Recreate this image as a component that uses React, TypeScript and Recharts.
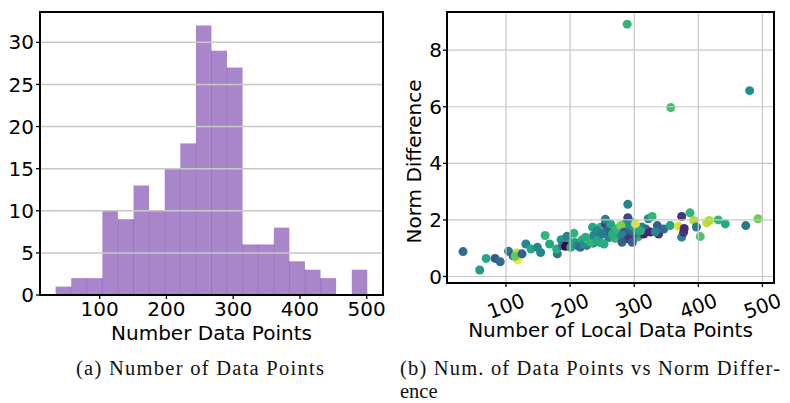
import React from 'react';
import {
  ComposedChart, Bar, XAxis, YAxis, CartesianGrid, ReferenceArea,
  ScatterChart, Scatter, ZAxis, Cell,
} from 'recharts';

// ---------- Histogram data ----------
const binEdges = [34.0, 57.35, 80.7, 104.05, 127.4, 150.75, 174.1, 197.45, 220.8, 244.15, 267.5,
  290.85, 314.2, 337.55, 360.9, 384.25, 407.6, 430.95, 454.3, 477.65, 501.0];
const binCounts = [1, 2, 2, 10, 9, 13, 10, 15, 18, 32, 29, 27, 6, 6, 8, 4, 3, 2, 0, 3];
const histXTicks = [100, 200, 300, 400, 500];
const histYTicks = [0, 5, 10, 15, 20, 25, 30];

// ---------- Scatter data ----------
const localPoints = [
  208, 219, 226, 238, 244, 247, 256, 260, 268, 270, 276, 279, 288, 293, 298, 300, 306, 312, 318, 236, 198, 186, 264, 285, 295,
  33, 59, 69, 83, 91, 104, 111, 117, 118, 114, 125, 131, 139, 149, 154, 161, 168, 180, 179, 188,
  193, 195, 206, 201, 211, 216, 222, 227, 232, 237, 242, 247, 255, 258, 263, 266, 273, 279, 284,
  290, 290, 294, 299, 304, 315, 322, 328, 336, 338, 346, 356, 369, 374, 374, 377, 387, 393, 397,
  403, 413, 417, 431, 442, 474, 493, 289, 357, 480, 325, 378, 255, 224, 235, 242, 250, 253, 281,
  291, 297, 302, 310, 333, 281,
];
const normDiff = [
  1.20, 1.30, 1.10, 1.45, 1.32, 1.20, 1.65, 1.38, 1.62, 1.35, 1.50, 1.78, 1.70, 1.60, 1.45, 1.72, 1.40, 1.75, 1.68, 1.18, 1.25, 1.30, 1.78, 1.85, 1.92,
  0.88, 0.23, 0.64, 0.64, 0.52, 0.89, 0.73, 0.83, 0.59, 0.71, 0.80, 1.15, 0.97, 1.03, 0.85, 1.45, 1.15, 0.80, 0.97, 1.09,
  1.07, 1.42, 1.53, 1.03, 1.09, 1.03, 1.15, 1.33, 1.21, 1.45, 1.27, 1.74, 1.86, 1.62, 1.86, 1.50, 1.68, 1.80, 1.56,
  2.55, 2.08, 1.86, 1.50, 1.62, 1.50, 2.04, 2.12, 1.80, 1.50, 1.68, 1.80, 1.78, 2.12, 1.39, 1.56, 2.25, 1.98, 1.75,
  1.41, 1.90, 1.98, 2.00, 1.86, 1.80, 2.04, 8.92, 5.97, 6.57, 1.57, 1.70, 2.02, 1.39, 1.74, 1.62, 1.51, 1.15, 1.45,
  1.33, 1.21, 1.86, 1.62, 1.58, 1.21,
];
const colorValue = [
  0.55, 0.62, 0.40, 0.60, 0.35, 0.60, 0.62, 0.45, 0.30, 0.65, 0.60, 0.62, 0.45, 0.40, 0.30, 0.60, 0.62, 0.45, 0.35, 0.45, 0.62, 0.55, 0.70, 0.55, 0.60,
  0.35, 0.55, 0.60, 0.28, 0.35, 0.40, 0.25, 0.90, 1.00, 0.75, 0.30, 0.45, 0.60, 0.45, 0.45, 0.65, 0.60, 0.40, 0.62, 0.40,
  0.00, 0.45, 0.65, 0.62, 0.45, 0.35, 0.50, 0.85, 0.65, 0.45, 0.60, 0.65, 0.20, 0.30, 0.60, 0.62, 0.65, 0.80, 0.30,
  0.45, 0.20, 0.50, 0.35, 0.55, 0.10, 0.45, 0.65, 0.30, 0.15, 0.35, 0.58, 0.95, 0.15, 0.45, 0.15, 0.65, 0.88, 0.40,
  0.72, 0.90, 0.88, 0.65, 0.60, 0.40, 0.78, 0.65, 0.70, 0.50, 0.10, 0.12, 0.45, 0.62, 0.60, 0.45, 0.42, 0.62, 0.45,
  0.15, 0.30, 0.95, 0.62, 0.45, 0.30,
];
const scatterXTicks = [100, 200, 300, 400, 500];
const scatterYTicks = [0, 2, 4, 6, 8];

// ---------- helpers ----------
const VIRIDIS = ['#440154', '#482475', '#414487', '#355f8d', '#2a788e', '#21918c', '#22a884', '#44bf70', '#7ad151', '#bddf26', '#fde725'];
function hexToRgb(h: string) {
  return [parseInt(h.slice(1, 3), 16), parseInt(h.slice(3, 5), 16), parseInt(h.slice(5, 7), 16)];
}
function viridis(t: number) {
  const s = Math.max(0, Math.min(1, t)) * 10;
  const i = Math.floor(s);
  if (i >= 10) return VIRIDIS[10];
  const f = s - i;
  const a = hexToRgb(VIRIDIS[i]);
  const b = hexToRgb(VIRIDIS[i + 1]);
  const c = a.map((v, k) => Math.round(v + (b[k] - v) * f));
  return `rgb(${c[0]},${c[1]},${c[2]})`;
}

const histData = binCounts.map((count, i) => ({
  mid: (binEdges[i] + binEdges[i + 1]) / 2,
  count,
  prev: i > 0 ? binCounts[i - 1] : 0,
}));

const scatterData = localPoints.map((x, i) => ({ x, y: normDiff[i], c: colorValue[i] }));

const FONT = 'DejaVu Sans';
const tickStyle = { fontSize: 20, fill: '#000', fontFamily: FONT };

const HistBar = (props: any) => {
  const { x, y, width, height, payload } = props;
  if (!height || height <= 0) return <g />;
  const seamH = payload.prev > 0 ? (height * Math.min(payload.prev, payload.count)) / payload.count : 0;
  return (
    <g>
      <rect x={x} y={y} width={width} height={height} fill="#a985ca" />
      {seamH > 0 && (
        <line x1={x} x2={x} y1={y + height - seamH} y2={y + height} stroke="#9870c4" strokeWidth={1} />
      )}
    </g>
  );
};

const RotTick = (props: any) => {
  const { x, y, payload } = props;
  const cy = y + 17;
  return (
    <text x={x} y={cy} textAnchor="middle" dominantBaseline="central"
      transform={`rotate(-20 ${x} ${cy})`} fontSize={20} fontFamily={FONT} fill="#000">
      {payload.value}
    </text>
  );
};

const YLabel = (props: any) => {
  const vb = props.viewBox || { x: 0, y: 0, width: 0, height: 0 };
  const cx = vb.x + 31;
  const cy = vb.y + vb.height / 2 + 14;
  return (
    <text x={cx} y={cy} textAnchor="middle" transform={`rotate(-90 ${cx} ${cy})`}
      fontSize={20} fontFamily={FONT} fill="#000">
      Norm Difference
    </text>
  );
};

export default function App() {
  return (
    <div style={{ position: 'absolute', left: 0, top: 0, width: 790, height: 403, background: '#fff' }}>
      <div style={{ position: 'absolute', left: 0, top: 0 }}>
        <ComposedChart width={390} height={345} data={histData}
          margin={{ top: 12, right: 7, left: 0, bottom: 0 }} barCategoryGap={0} barGap={0}>
          <XAxis type="number" dataKey="mid" domain={[10.6, 524.4]} ticks={histXTicks} allowDataOverflow
            height={50} tick={tickStyle} tickLine={{ stroke: '#000', strokeWidth: 1.3 }} axisLine={false}
            tickSize={4} tickMargin={3}
            label={{ value: 'Number Data Points', position: 'insideBottom', offset: 5, fontSize: 20, fill: '#000', fontFamily: FONT }} />
          <YAxis type="number" domain={[0, 33.6]} ticks={histYTicks} allowDataOverflow width={40}
            tick={tickStyle} tickLine={{ stroke: '#000', strokeWidth: 1.3 }} axisLine={false} tickSize={4} tickMargin={2} />
          <Bar dataKey="count" barSize={15.5} isAnimationActive={false} shape={<HistBar />} />
          <CartesianGrid vertical={false} stroke="#c8c8c8" strokeWidth={1.5} zIndex={350} />
          <ReferenceArea x1={10.6} x2={524.4} y1={0} y2={33.6} fill="none" fillOpacity={0}
            stroke="#000" strokeWidth={2} zIndex={700} ifOverflow="visible" />
        </ComposedChart>
      </div>
      <div style={{ position: 'absolute', left: 390, top: 0 }}>
        <ScatterChart width={400} height={345} margin={{ top: 12, right: 16, left: 0, bottom: 0 }}>
          <XAxis type="number" dataKey="x" domain={[8, 518]} ticks={scatterXTicks} allowDataOverflow
            height={62} tick={<RotTick />} tickLine={{ stroke: '#000', strokeWidth: 1.3 }} axisLine={false}
            tickSize={4} tickMargin={2}
            label={{ value: 'Number of Local Data Points', position: 'insideBottom', offset: 8.5, fontSize: 20, fill: '#000', fontFamily: FONT }} />
          <YAxis type="number" dataKey="y" domain={[-0.23, 9.35]} ticks={scatterYTicks} allowDataOverflow
            width={57} tick={tickStyle} tickLine={{ stroke: '#000', strokeWidth: 1.3 }} axisLine={false}
            tickSize={4} tickMargin={1} label={<YLabel />} />
          <ZAxis range={[68, 68]} />
          <Scatter data={scatterData} isAnimationActive={false}>
            {scatterData.map((d, i) => (
              <Cell key={i} fill={viridis(d.c)} />
            ))}
          </Scatter>
          <CartesianGrid stroke="#c8c8c8" strokeWidth={1.2} zIndex={650} />
          <ReferenceArea x1={8} x2={518} y1={-0.23} y2={9.35} fill="none" fillOpacity={0}
            stroke="#000" strokeWidth={2} zIndex={700} ifOverflow="visible" />
        </ScatterChart>
      </div>
      <svg width={790} height={403} style={{ position: 'absolute', left: 0, top: 0, pointerEvents: 'none' }}>
        <text x={76} y={375} fontFamily="Liberation Serif" fontSize={20.5} fill="#111"
          textLength={248} lengthAdjust="spacing">(a)  Number of Data Points</text>
        <text x={400} y={375} fontFamily="Liberation Serif" fontSize={20.5} fill="#111"
          textLength={380} lengthAdjust="spacing">(b)  Num. of Data Points vs Norm Differ-</text>
        <text x={400} y={398} fontFamily="Liberation Serif" fontSize={20.5} fill="#111">ence</text>
      </svg>
    </div>
  );
}
